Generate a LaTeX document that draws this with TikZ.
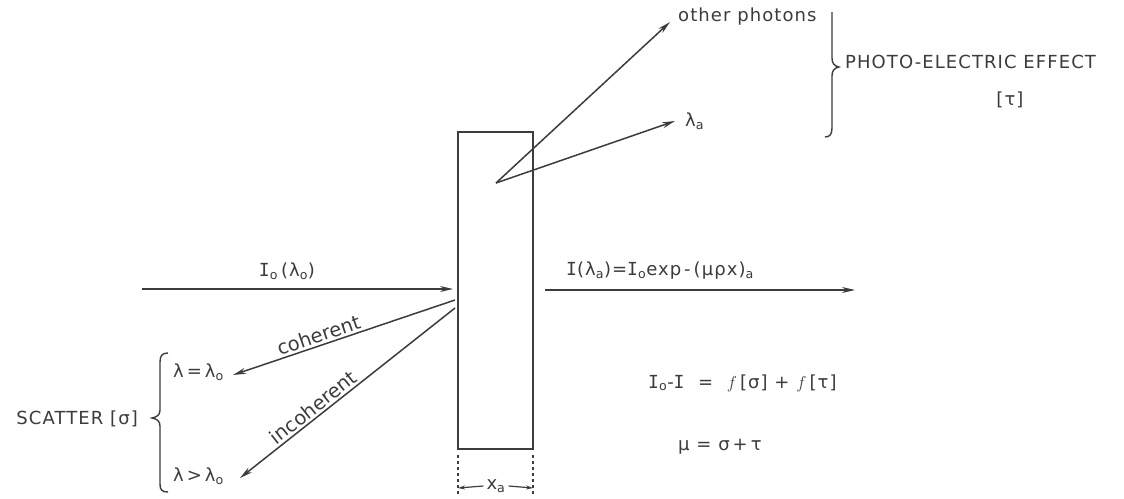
\documentclass[tikz,border=0pt]{standalone}
\usepackage{fontspec}
\setmainfont{DejaVu Sans}[LetterSpace=6]
\newfontfamily\plainfont{DejaVu Sans}
\newfontfamily\monofont{DejaVu Sans Mono}
\usetikzlibrary{arrows.meta}
\definecolor{ink}{HTML}{3C3C3C}
\newcommand{\sbs}[1]{\textsubscript{#1}}
\newcommand{\bigI}{{\monofont I}}
\begin{document}
\begin{tikzpicture}[x=1pt,y=-1pt,
  ray/.style={draw=ink, line width=1.5pt, -{Stealth[length=13pt,width=6pt]}},
  dimarrow/.style={draw=ink, line width=1.2pt, -{Stealth[length=7pt,width=4pt]}},
  lbl/.style={text=ink, font=\fontsize{18}{21}\selectfont, inner sep=2pt},
  slopelbl/.style={text=ink, font=\plainfont\fontsize{19.5}{22}\selectfont, inner sep=2pt},
  formula/.style={text=ink, font=\fontsize{18}{21}\selectfont, inner sep=0pt},
  caps/.style={text=ink, font=\fontsize{18}{21}\selectfont, inner sep=0pt},
  bracepath/.style={draw=ink, line width=1.4pt},
  ]
\useasboundingbox[fill=white] (0,0) rectangle (1124,498);

% slab
\node[draw=ink, line width=1.7pt, minimum width=75pt, minimum height=317pt, inner sep=0pt] (slab) at (495.5,290.5) {};

% incident beam
\coordinate (inA) at (142,289);
\coordinate (inB) at (453,289);
\draw[ray] (inA) -- (inB);
\node[formula] (inlbl) at (287,271) {\bigI\sbs{o}\,(λ\sbs{o})};

% transmitted beam
\coordinate (outA) at (545,290);
\coordinate (outB) at (855,290);
\draw[ray] (outA) -- (outB);
\node[formula, anchor=west] (outlbl) at (566,271) {\bigI(λ\sbs{a})=\bigI\sbs{o}exp\,-\,(μρx)\sbs{a}};

% scatter
\coordinate (scA) at (455,300);
\coordinate (cohEnd) at (233,375);
\coordinate (scB) at (455,308);
\coordinate (incEnd) at (240,478);
\draw[ray] (scA) -- node[slopelbl, sloped, above, pos=0.6] (cohlbl) {coherent} (cohEnd);
\draw[ray] (scB) -- node[slopelbl, sloped, above, pos=0.63] (inclbl) {incoherent} (incEnd);
\node[formula, anchor=west] (leq) at (173,372) {λ\,=\,λ\sbs{o}};
\node[formula, anchor=west] (lgt) at (173,476) {λ\,>\,λ\sbs{o}};
\node[caps, anchor=east] (scatter) at (138,419) {SCATTER [σ]};
\draw[bracepath] (168,353) .. controls (162,353) and (160,356) .. (160,362)
  -- (160,410) .. controls (160,415) and (157,417) .. (152,418)
  .. controls (157,419) and (160,421) .. (160,426)
  -- (160,484) .. controls (160,490) and (162,492) .. (168,492);

% photo-electric
\coordinate (vtx) at (496,183);
\coordinate (opEnd) at (670,22);
\coordinate (laEnd) at (675,121);
\draw[ray] (vtx) -- (opEnd);
\draw[ray] (vtx) -- (laEnd);
\node[lbl, anchor=west, inner sep=0pt] (other) at (678,17) {other photons};
\node[formula, anchor=west] (lama) at (685,121) {λ\sbs{a}};
\draw[bracepath] (832,12) -- (832,58) .. controls (832,63) and (834,66) .. (839,67)
  .. controls (834,68) and (832,71) .. (832,76)
  -- (832,128) .. controls (832,134) and (830,137) .. (825,137);
\node[caps, anchor=west] (pe) at (845,62) {PHOTO-ELECTRIC EFFECT};
\node[formula] (tau) at (1010,100) {[τ]};

% equations
\node[formula, anchor=west] (eq1) at (648,383) {\bigI\sbs{o}-\bigI\ \ =\ \ $f$\,[σ]\ +\ $f$\,[τ]};
\node[formula, anchor=west] (eq2) at (678,447) {μ\ =\ σ\,+\,τ};

% thickness dimension
\coordinate (dlTop) at (458,455);
\coordinate (dlBot) at (458,496);
\coordinate (drTop) at (533,455);
\coordinate (drBot) at (533,496);
\draw[draw=ink, line width=1.2pt, dashed] (dlTop) -- (dlBot);
\draw[draw=ink, line width=1.2pt, dashed] (drTop) -- (drBot);
\coordinate (dimL) at (458,488);
\coordinate (dimR) at (533,488);
\node[formula, inner sep=3pt] (xa) at (496,486) {x\sbs{a}};
\draw[dimarrow] (xa.west) -- (dimL);
\draw[dimarrow] (xa.east) -- (dimR);
\end{tikzpicture}
\end{document}
